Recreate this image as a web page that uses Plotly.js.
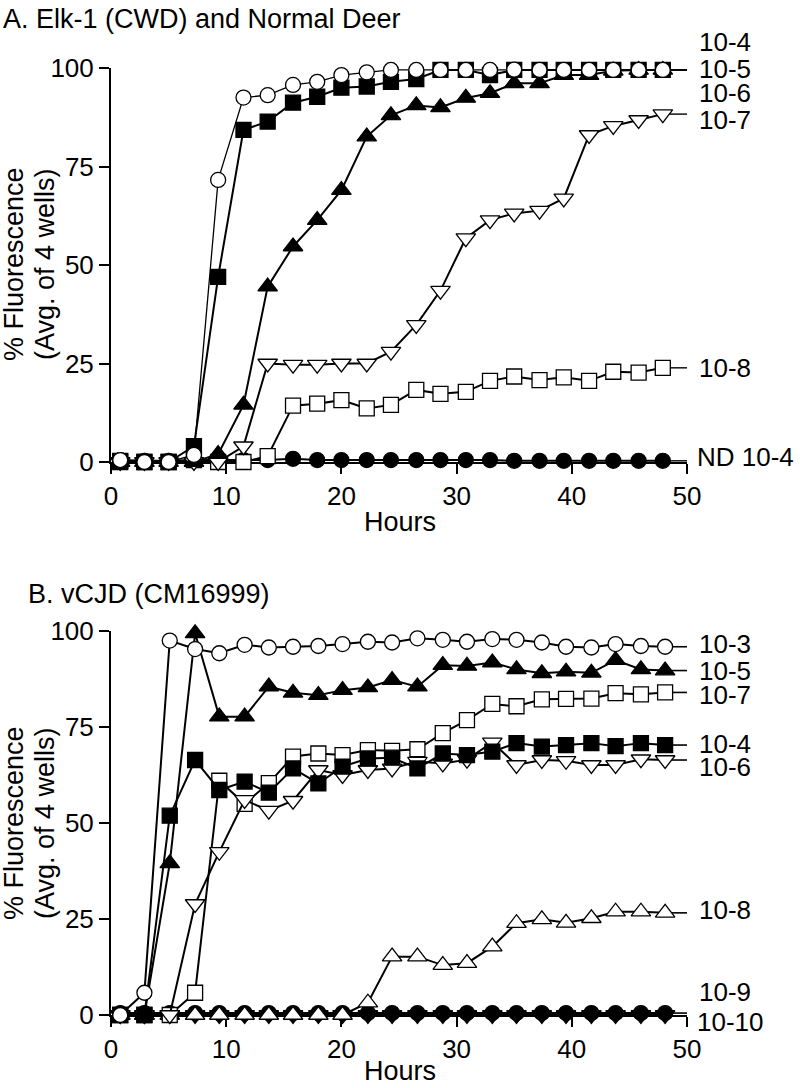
<!DOCTYPE html>
<html>
<head>
<meta charset="utf-8">
<script src="https://cdn.plot.ly/plotly-3.0.1.min.js"></script>
<style>html,body{margin:0;padding:0;background:#fff;}#chart{width:800px;height:1088px;}</style>
</head>
<body>
<div id="chart"></div>
<script>
// ---------- Data ----------
const hoursA = [0.8, 2.9, 5.0, 7.2, 9.3, 11.5, 13.6, 15.8, 17.9, 20.0, 22.2, 24.3, 26.5, 28.6, 30.8, 32.9, 35.0, 37.2, 39.3, 41.5, 43.6, 45.8, 47.9];
const hoursB = [0.8, 2.9, 5.1, 7.3, 9.4, 11.6, 13.7, 15.8, 18.0, 20.1, 22.3, 24.4, 26.6, 28.8, 30.9, 33.1, 35.2, 37.4, 39.5, 41.7, 43.8, 46.0, 48.1];

// Panel A: Elk-1 (CWD) dilutions and normal deer
const a_1e4  = [0.5, 0, 0, 1.8, 71.6, 92.5, 93.1, 95.7, 96.5, 98.2, 98.9, 99.5, 99.5, 99.5, 99.5, 99.5, 99.6, 99.5, 99.5, 99.5, 99.5, 99.5, 99.5];
const a_1e5  = [0.3, 0, 0, 4, 47, 84.3, 86.4, 91.2, 92.7, 95, 95.3, 96.5, 97.2, 99.5, 99.5, 98.2, 99.5, 99.5, 99.5, 99.5, 99.5, 99.5, 99.5];
const a_1e6  = [0, 0, 0, 0, 2, 14.5, 44.5, 54.7, 61.4, 69, 82.6, 88, 90.5, 90, 92.4, 93.6, 96.1, 96.1, 98.2, 98.2, 99.3, 99.5, 99.5];
const a_1e7  = [0, 0, 0, 0, 0, 4, 25, 24.7, 24.7, 25, 25, 28, 34.8, 43.5, 56.8, 61.4, 63.1, 63.8, 66.9, 83, 85.3, 86.8, 88.3];
const a_1e8  = [0, 0, 0, 0.5, 0, 0, 1.5, 14.3, 14.8, 15.7, 13.6, 14.5, 18.3, 17.3, 17.8, 20.6, 21.7, 20.8, 21.5, 20.6, 22.9, 22.7, 23.9];
const a_nd   = [0.5, 0.3, 0.3, 0.5, 0.5, 0.5, 0.5, 0.8, 0.5, 0.5, 0.5, 0.5, 0.5, 0.5, 0.5, 0.5, 0.3, 0.3, 0.3, 0.3, 0.3, 0.3, 0.3];

// Panel B: vCJD (CM16999) dilutions
const b_1e3  = [0, 5.8, 97.5, 95.3, 94.2, 96.4, 95.7, 95.9, 96.1, 96.6, 97.2, 97, 98.1, 97.7, 97.2, 97.9, 97.7, 97, 95.9, 95.7, 96.6, 96.1, 95.9];
const b_1e4  = [0, 0, 51.9, 66.4, 58.6, 60.8, 57.9, 64.2, 60.3, 64.7, 66.8, 67, 64.2, 68.1, 67.7, 68.6, 70.8, 69.9, 70.3, 70.8, 70, 70.8, 70.3];
const b_1e5  = [0, 0, 39.5, 99.4, 77.7, 77.7, 85.5, 83.9, 83.3, 84.6, 85.3, 87.2, 85.5, 91.1, 90.9, 91.8, 90, 89, 89.4, 89.1, 92.4, 90, 89.7];
const b_1e6  = [0, 0, 0, 28.9, 42.5, 56, 53.2, 55.8, 63.8, 62.5, 63.8, 64.2, 66, 65.5, 66.5, 71, 65.1, 66.4, 66.2, 65.1, 65.1, 66.6, 66.4];
const b_1e7  = [0, 0, 0, 5.8, 61, 55, 60.4, 67.3, 68.1, 67.7, 69, 68.8, 69.2, 73.4, 76.8, 81, 80.4, 82.2, 82.3, 82.4, 83.8, 83.5, 84];
const b_1e8  = [0, 0, 0, 0, 0, 0, 0, 0, 0, 0, 3.2, 15.2, 15.2, 13, 13.5, 17.8, 23.9, 24.9, 24, 25.2, 26.9, 26.9, 26.6];
const b_1e9  = [0, 0, 0, 0, 0, 0, 0, 0, 0, 0, 0, 0, 0, 0, 0, 0, 0, 0, 0, 0, 0, 0, 0];
const b_1e10 = [0.5, 0.5, 0.5, 0.5, 0.5, 0.5, 0.5, 0.5, 0.5, 0.5, 0.5, 0.5, 0.5, 0.5, 0.5, 0.5, 0.5, 0.5, 0.5, 0.5, 0.5, 0.5, 0.5];

const xTicks = [0, 10, 20, 30, 40, 50];
const yTicks = [0, 25, 50, 75, 100];
const xMax = 50;

// ---------- Helpers ----------
const FONT = 'Liberation Sans, Arial, Helvetica, sans-serif';
const W = 800, H = 1088;

function series(x, y, name, symbol, fill, xa, ya, lw, size) {
  return {
    type: 'scatter', mode: 'lines+markers', x: x, y: y, name: name,
    xaxis: xa, yaxis: ya, cliponaxis: false, hoverinfo: 'skip',
    line: {color: 'black', width: lw || 2},
    marker: {symbol: symbol, size: size || 15, color: fill, line: {color: 'black', width: 1.3}}
  };
}
function leader(x, y, xa, ya, lw) {
  const last = y[y.length - 1];
  return {
    type: 'scatter', mode: 'lines', x: [x[x.length - 1], xMax], y: [last, last],
    xaxis: xa, yaxis: ya, cliponaxis: false, hoverinfo: 'skip', showlegend: false,
    line: {color: 'black', width: lw || 1.6}
  };
}

const traces = [];
// Panel A (bottom to top drawing order)
const specA = [
  [a_nd,  'ND 10-4', 'circle',        'black', 2],
  [a_1e8, '10-8',    'square',        'white', 2],
  [a_1e7, '10-7',    'triangle-down', 'white', 2],
  [a_1e6, '10-6',    'triangle-up',   'black', 2],
  [a_1e5, '10-5',    'square',        'black', 2],
  [a_1e4, '10-4',    'circle',        'white', 1.3]
];
specA.forEach(s => traces.push(leader(hoursA, s[0], 'x', 'y', 1.4)));
specA.forEach(s => traces.push(series(hoursA, s[0], s[1], s[2], s[3], 'x', 'y', s[4],
  s[2].indexOf('triangle') === 0 ? 17 : 15)));

// Panel B
const specB = [
  [b_1e10, '10-10', 'circle',        'black'],
  [b_1e9,  '10-9',  'triangle-down', 'black'],
  [b_1e8,  '10-8',  'triangle-up',   'white'],
  [b_1e7,  '10-7',  'square',        'white'],
  [b_1e6,  '10-6',  'triangle-down', 'white'],
  [b_1e4,  '10-4',  'square',        'black'],
  [b_1e5,  '10-5',  'triangle-up',   'black'],
  [b_1e3,  '10-3',  'circle',        'white']
];
specB.forEach(s => { if (s[1] !== '10-9') traces.push(leader(hoursB, s[0], 'x2', 'y2', 1.6)); });
specB.forEach(s => traces.push(series(hoursB, s[0], s[1], s[2], s[3], 'x2', 'y2', 2,
  s[2].indexOf('triangle') === 0 ? 17 : 15)));

// ---------- Layout ----------
function xAxis(anchor) {
  return {
    domain: [111 / W, 687 / W], anchor: anchor, range: [0, xMax], tickvals: xTicks,
    showline: true, linecolor: 'black', linewidth: 2, ticks: 'outside', ticklen: 10,
    tickwidth: 2, tickcolor: 'black', showgrid: false, zeroline: false, layer: 'below traces',
    tickfont: {family: FONT, size: 26, color: 'black'}, fixedrange: true
  };
}
function yAxis(anchor, top, bottom) {
  return {
    domain: [(H - bottom) / H, (H - top) / H], anchor: anchor, range: [0, 100], tickvals: yTicks,
    showline: true, linecolor: 'black', linewidth: 2, ticks: 'outside', ticklen: 10,
    tickwidth: 2, tickcolor: 'black', showgrid: false, zeroline: false, layer: 'below traces',
    tickfont: {family: FONT, size: 26, color: 'black'}, fixedrange: true
  };
}

function txt(text, xpx, ypx, opts) {
  return Object.assign({
    text: text, xref: 'paper', yref: 'paper', x: xpx / W, y: (H - ypx) / H,
    xanchor: 'left', yanchor: 'middle', showarrow: false,
    font: {family: FONT, size: 27, color: 'black'}
  }, opts || {});
}
function lab(text, ypx, xpx) {
  return txt(text, xpx || 697, ypx, {font: {family: FONT, size: 26, color: 'black'}});
}

const annotations = [
  txt('A. Elk-1 (CWD) and Normal Deer', 1, 19),
  txt('B. vCJD (CM16999)', 26, 594),
  txt('% Fluorescence', 14, 264, {xanchor: 'center', textangle: -90}),
  txt('(Avg. of 4 wells)', 45, 264, {xanchor: 'center', textangle: -90}),
  txt('% Fluorescence', 14, 823, {xanchor: 'center', textangle: -90}),
  txt('(Avg. of 4 wells)', 45, 823, {xanchor: 'center', textangle: -90}),
  txt('Hours', 400, 522, {xanchor: 'center'}),
  txt('Hours', 400, 1071, {xanchor: 'center'}),
  // Panel A dilution labels
  lab('10-4', 42),
  lab('10-5', 69),
  lab('10-6', 93),
  lab('10-7', 120),
  lab('10-8', 368),
  lab('ND 10-4', 457, 695),
  // Panel B dilution labels
  lab('10-3', 644),
  lab('10-5', 671),
  lab('10-7', 695),
  lab('10-4', 744),
  lab('10-6', 767),
  lab('10-8', 910),
  lab('10-9', 992),
  lab('10-10', 1022, 695)
];

const layout = {
  width: W, height: H,
  margin: {l: 0, r: 0, t: 0, b: 0, pad: 0},
  paper_bgcolor: 'white', plot_bgcolor: 'white',
  showlegend: false,
  font: {family: FONT, size: 26, color: 'black'},
  xaxis: xAxis('y'),
  yaxis: yAxis('x', 68, 462),
  xaxis2: xAxis('y2'),
  yaxis2: yAxis('x2', 631, 1015),
  annotations: annotations
};

Plotly.newPlot('chart', traces, layout, {staticPlot: true, displayModeBar: false});
</script>
</body>
</html>
